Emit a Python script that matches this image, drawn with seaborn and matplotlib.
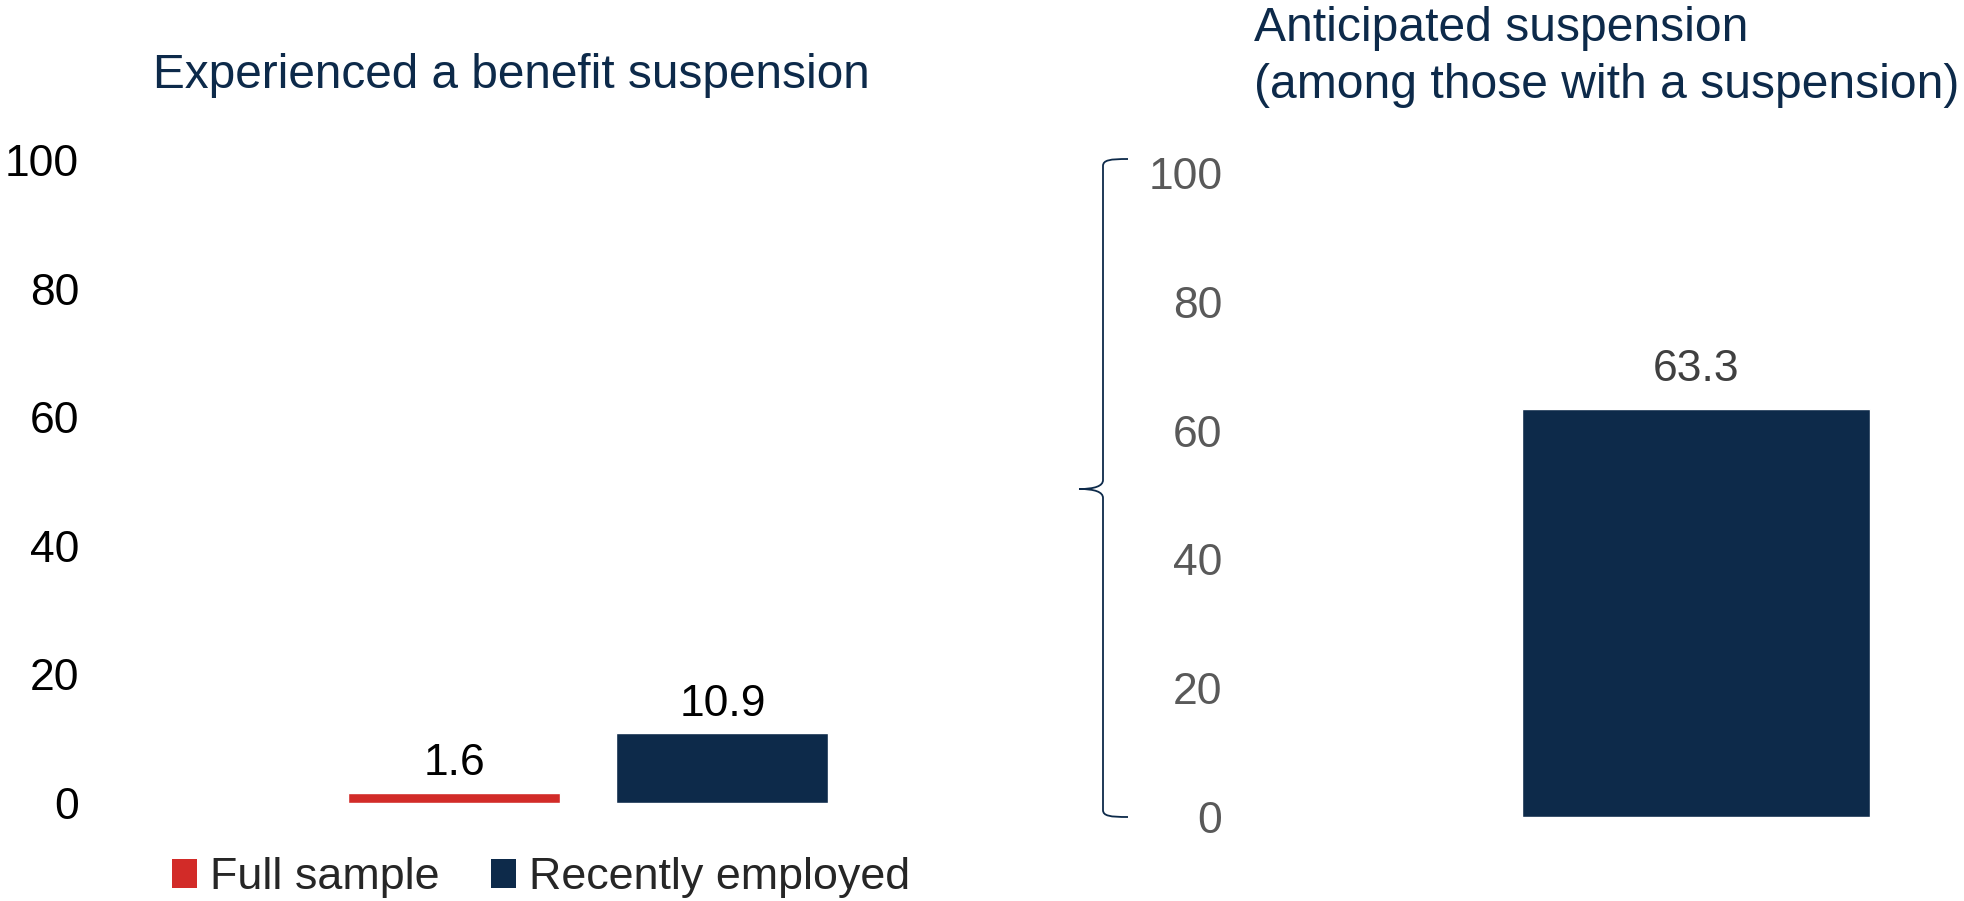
import matplotlib
matplotlib.use("Agg")
import matplotlib.pyplot as plt
from matplotlib.patches import Patch, PathPatch
from matplotlib.path import Path
import seaborn as sns
import pandas as pd

# Data
groups = ["Full sample", "Recently employed"]
suspension_rate = [1.6, 10.9]
anticipated_group = ["Recently employed"]
anticipated_rate = [63.3]
y_ticks = [0, 20, 40, 60, 80, 100]

left_title = "Experienced a benefit suspension"
right_title = "Anticipated suspension\n(among those with a suspension)"

RED = "#D22B28"
NAVY = "#0D2A4A"
GRAY = "#595959"

sns.set_style("white")
plt.rcParams["font.family"] = ["Liberation Sans", "DejaVu Sans"]

W, H = 1965, 901
fig = plt.figure(figsize=(W / 100, H / 100), dpi=100)


def px_axes(x0, y0, x1, y1):
    """Axes placed by pixel box (top-left origin)."""
    return fig.add_axes([x0 / W, 1 - y1 / H, (x1 - x0) / W, (y1 - y0) / H])


# Left panel
axl = px_axes(100, 160, 870, 803)
df_l = pd.DataFrame({"group": groups, "value": suspension_rate})
sns.barplot(data=df_l, x="group", y="value", hue="group",
            palette=[RED, NAVY], width=0.79, legend=False, ax=axl,
            saturation=1)
axl.set_xlim(-1.32, 1.55)
axl.set_ylim(0, 100)
axl.set_yticks(y_ticks)
axl.tick_params(axis="y", labelsize=32, colors="black", length=0, pad=15)
axl.set_xticks([])
axl.set_xlabel("")
axl.set_ylabel("")
for s in axl.spines.values():
    s.set_visible(False)
for c in axl.containers:
    axl.bar_label(c, fmt="%.1f", padding=6, fontsize=32, color="black")

fig.text(153 / W, 1 - 75 / H, left_title, fontsize=34.4, color=NAVY,
         ha="left", va="center")

# Legend
handles = [Patch(facecolor=RED, edgecolor="none"),
           Patch(facecolor=NAVY, edgecolor="none")]
fig.legend(handles, groups, loc="center left",
           bbox_to_anchor=(172 / W, 1 - 878 / H), ncol=2, frameon=False,
           fontsize=32.3, handlelength=0.55, handleheight=0.6,
           handletextpad=0.3, columnspacing=1.15, borderaxespad=0,
           borderpad=0)

# Right panel
axr = px_axes(1232, 173, 1960, 817)
df_r = pd.DataFrame({"group": anticipated_group, "value": anticipated_rate})
sns.barplot(data=df_r, x="group", y="value", color=NAVY, width=0.87,
            ax=axr, saturation=1)
axr.set_xlim(-1.16, 0.66)
axr.set_ylim(0, 100)
axr.set_yticks(y_ticks)
axr.tick_params(axis="y", labelsize=32, colors=GRAY, length=0, pad=7)
axr.set_xticks([])
axr.set_xlabel("")
axr.set_ylabel("")
for s in axr.spines.values():
    s.set_visible(False)
for c in axr.containers:
    axr.bar_label(c, fmt="%.1f", padding=14, fontsize=32, color="#404040")

fig.text(1254 / W, 1 - 57 / H, right_title, fontsize=34.6, color=NAVY,
         ha="left", va="center", linespacing=1.35)

# Curly brace linking the panels
pts = [(1128, 159),
       (1110, 159), (1103, 160), (1103, 166),
       (1103, 480),
       (1103, 486), (1095, 489), (1079, 489),
       (1095, 489), (1103, 492), (1103, 498),
       (1103, 810),
       (1103, 816), (1110, 817), (1128, 817)]
codes = [Path.MOVETO,
         Path.CURVE4, Path.CURVE4, Path.CURVE4,
         Path.LINETO,
         Path.CURVE4, Path.CURVE4, Path.CURVE4,
         Path.CURVE4, Path.CURVE4, Path.CURVE4,
         Path.LINETO,
         Path.CURVE4, Path.CURVE4, Path.CURVE4]
verts = [(x / W, 1 - y / H) for x, y in pts]
brace = PathPatch(Path(verts, codes), transform=fig.transFigure,
                  facecolor="none", edgecolor=NAVY, lw=1.3)
fig.add_artist(brace)

fig.savefig("out.png", dpi=100, facecolor="white")
